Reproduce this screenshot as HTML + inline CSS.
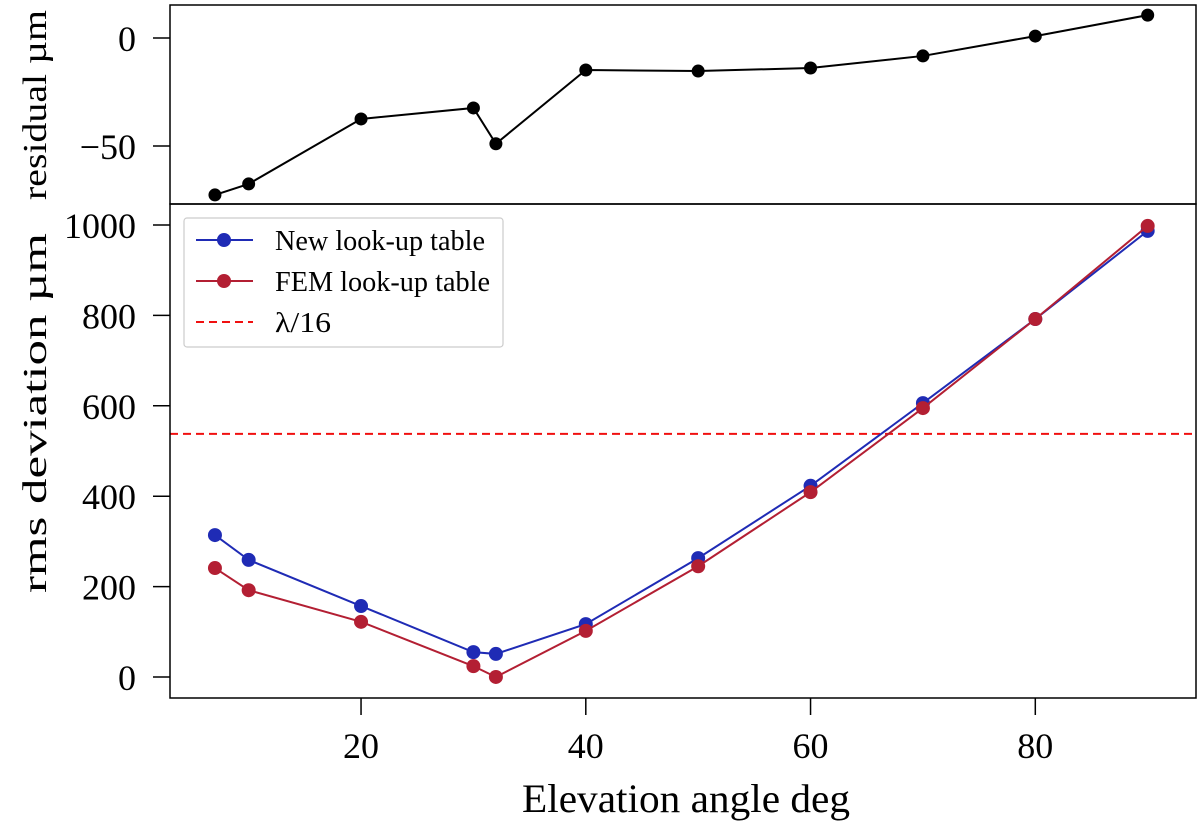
<!DOCTYPE html>
<html><head><meta charset="utf-8"><style>
body{margin:0;background:#fff}
svg{display:block;font-family:"Liberation Serif","DejaVu Serif",serif}
</style></head><body>
<svg id="c" width="1200" height="826" viewBox="0 0 1200 826"></svg>
<script>
const elev=[7,10,20,30,32,40,50,60,70,80,90];
const residual=[-72.7,-67.6,-37.5,-32.4,-49,-14.8,-15.3,-13.9,-8.3,0.9,10.6];
const newTable=[314,259,157,55,51,117,263,423,606,792,987];
const femTable=[241,192,122,24,0,102,245,409,595,792,998];
const lambda16=538;
const xTicks=[20,40,60,80];
const resTicks=[0,-50];
const rmsTicks=[0,200,400,600,800,1000];
const NS="http://www.w3.org/2000/svg";
const svg=document.getElementById('c');
function el(t,a,p){const e=document.createElementNS(NS,t);for(const k in a)e.setAttribute(k,a[k]);(p||svg).appendChild(e);return e;}
const L=170,R=1196;
const X=v=>L+(v-3.0)/(94.3-3.0)*(R-L);
const YT=v=>5+(15.3-v)/(15.3+76.9)*(204-5);
const YB=v=>204+(1046.5-v)/(1046.5+46.5)*(698-204);
// top panel
const gT=el('g',{});
let d='';elev.forEach((e,i)=>d+=(i?'L':'M')+X(e)+' '+YT(residual[i]));
const rl=el('path',{d,fill:'none',stroke:'#000','stroke-width':2},gT);

elev.forEach((e,i)=>{const c=el('circle',{cx:X(e),cy:YT(residual[i]),r:6.5,fill:'#000'},gT);
});
resTicks.forEach(t=>{const y=YT(t);el('line',{x1:L-17,x2:L,y1:y,y2:y,stroke:'#000','stroke-width':1.5},gT);
const tx=el('text',{x:L-34,y:y+13,'font-size':36,'text-anchor':'end'},gT);tx.textContent=t<0?'\u2212'+(-t):t;
});
const rt=el('text',{x:0,y:0,'font-size':34,'text-anchor':'middle',textLength:190,lengthAdjust:'spacingAndGlyphs',transform:'translate(46,105) rotate(-90)'});
rt.textContent='residual \u00b5m';
// bottom panel
const gB=el('g',{});
const dl=el('line',{x1:L,x2:R,y1:YB(lambda16),y2:YB(lambda16),stroke:'#f01010','stroke-width':2,'stroke-dasharray':'8,5'},gB);

function series(vals,col,name){let p='';elev.forEach((e,i)=>p+=(i?'L':'M')+X(e)+' '+YB(vals[i]));
const l=el('path',{d:p,fill:'none',stroke:col,'stroke-width':2},gB);
elev.forEach((e,i)=>{const c=el('circle',{cx:X(e),cy:YB(vals[i]),r:7,fill:col},gB);});}
series(newTable,'#1f2bb5','new-table');
series(femTable,'#b31f33','fem-table');
rmsTicks.forEach(t=>{const y=YB(t);el('line',{x1:L-17,x2:L,y1:y,y2:y,stroke:'#000','stroke-width':1.5},gB);
const tx=el('text',{x:L-34,y:y+13,'font-size':36,'text-anchor':'end'},gB);tx.textContent=t;
});
xTicks.forEach(t=>{const x=X(t);el('line',{x1:x,x2:x,y1:698,y2:715,stroke:'#000','stroke-width':1.5},gB);
const tx=el('text',{x:x,y:758,'font-size':36,'text-anchor':'middle'},gB);tx.textContent=t;
});
const yt=el('text',{x:0,y:0,'font-size':34,'text-anchor':'middle',textLength:360,lengthAdjust:'spacingAndGlyphs',transform:'translate(46,413) rotate(-90)'});
yt.textContent='rms deviation \u00b5m';
const xt=el('text',{x:686,y:812,'font-size':40,'text-anchor':'middle',textLength:328,lengthAdjust:'spacingAndGlyphs'});
xt.textContent='Elevation angle deg';
// frames
const f1=el('rect',{x:L,y:5,width:R-L,height:199,fill:'none',stroke:'#000','stroke-width':1.5});

const f2=el('rect',{x:L,y:204,width:R-L,height:494,fill:'none',stroke:'#000','stroke-width':1.5});

// legend
const lg=el('g',{});
el('rect',{x:184,y:218,width:319,height:129,rx:3,fill:'#fff',stroke:'#ccc','stroke-width':1.2},lg);
const items=[['New look-up table','#1f2bb5',0,210],['FEM look-up table','#b31f33',0,215],['\u03bb/16','#f01010',1,56]];
items.forEach((it,i)=>{const y=240+i*41;const g=el('g',{},lg);

if(it[2])el('line',{x1:196,x2:253,y1:y,y2:y,stroke:it[1],'stroke-width':2,'stroke-dasharray':'8,5'},g);
else{el('line',{x1:196,x2:253,y1:y,y2:y,stroke:it[1],'stroke-width':2},g);el('circle',{cx:224,cy:y,r:7,fill:it[1]},g);}
const t=el('text',{x:275,y:y+10,'font-size':28,textLength:it[3],lengthAdjust:'spacingAndGlyphs'},g);t.textContent=it[0];});
</script>
</body></html>
